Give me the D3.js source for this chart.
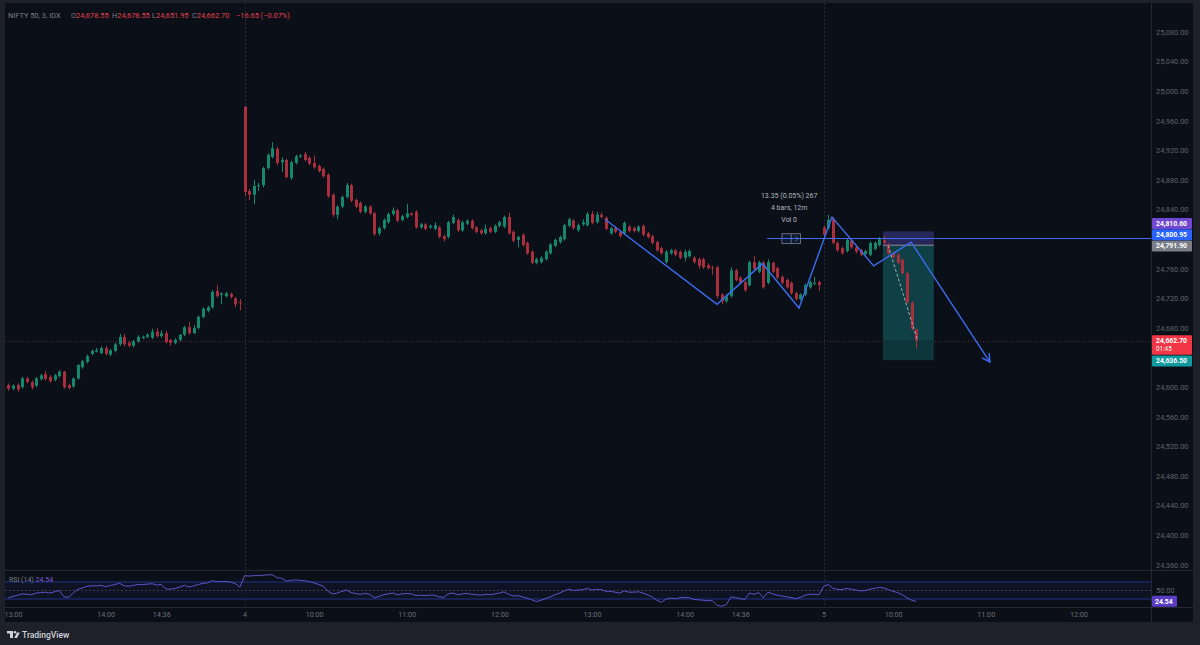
<!DOCTYPE html>
<html><head><meta charset="utf-8">
<script src="https://cdn.jsdelivr.net/npm/d3@7"></script>
<style>
html,body{margin:0;padding:0;background:#1e2129;overflow:hidden;}
svg{display:block;}
text{font-family:Roboto,"Open Sans",sans-serif;}
</style></head><body>
<svg id="c" width="1200" height="645"></svg>
<script>
// ---------------- DATA ----------------
const opens = [
24603,24598,24603,24600,24612,24607,24602,24611,24618,24614,
24610,24615,24621,24603,24601,24612,24627,24634,24645,24648,
24646,24653,24644,24649,24658,24668,24660,24656,24662,24666,
24668,24667,24675,24669,24673,24664,24660,24664,24671,24681,
24673,24680,24695,24703,24708,24730,24725,24723,24726,24720,
24715,
24979,24865,24860,24872,24873,24896,24911,24922,24904,24907,
24883,24903,24912,24915,24910,24903,24899,24895,24887,24860,
24833,24844,24857,24873,24853,24849,24837,24844,24835,24808,
24815,24823,24834,24839,24826,24830,24835,24837,24816,24820,
24816,24814,24816,24804,24803,24822,24826,24812,24821,24825,
24816,24812,24808,24815,24810,24818,24817,24830,24810,24799,
24806,24795,24783,24768,24769,24773,24781,24791,24796,24800,
24818,24825,24812,24820,24819,24834,24823,24833,24829,24808,
24815,24810,24808,24817,24815,24811,24818,24808,24804,24796,
24788,24769,24781,24785,24783,24775,24777,24775,24773,24773,
24765,24762,24762,24725,24716,24723,24758,24748,24742,24738,
24769,24756,24768,24741,24768,24761,24749,24745,24741,24727,
24719,24725,24735,24740,24742,
24816,24815,24827,24795,24788,24784,24798,24789,24785,24780,
24779,24787,24792,24799,24793,24781,24779,24772,24754,24714,24678.55];
const highs = [
24605,24604,24605,24614,24614,24609,24614,24618,24622,24616,
24618,24623,24622,24605,24613,24631,24637,24644,24651,24653,
24655,24656,24652,24660,24672,24672,24662,24664,24670,24670,
24673,24679,24680,24677,24676,24665,24666,24672,24683,24688,
24684,24697,24708,24710,24731,24738,24728,24729,24728,24722,
24719,
24980,24868,24880,24876,24898,24916,24931,24925,24911,24909,
24906,24914,24915,24918,24912,24913,24901,24897,24889,24862,
24846,24859,24876,24875,24855,24851,24846,24846,24837,24817,
24828,24836,24843,24841,24833,24848,24836,24839,24822,24822,
24820,24823,24818,24806,24825,24833,24828,24825,24827,24827,
24818,24814,24820,24817,24820,24825,24832,24836,24812,24805,
24808,24797,24785,24775,24777,24785,24795,24801,24805,24821,
24829,24827,24821,24827,24837,24838,24837,24836,24831,24817,
24817,24812,24824,24819,24817,24819,24820,24810,24806,24798,
24790,24785,24787,24787,24785,24786,24786,24777,24775,24775,
24767,24764,24764,24727,24726,24762,24760,24750,24744,24771,
24777,24771,24771,24773,24770,24763,24751,24747,24743,24729,
24727,24740,24744,24749,24744,
24818,24833,24830,24797,24790,24801,24800,24791,24787,24786,
24797,24797,24803,24804,24795,24783,24781,24774,24756,24716,24678.55];
const lows = [
24595,24596,24594,24598,24605,24597,24600,24609,24609,24606,
24608,24613,24598,24597,24599,24610,24625,24632,24643,24647,
24645,24643,24642,24647,24656,24655,24654,24654,24660,24665,
24666,24665,24667,24667,24659,24656,24658,24662,24669,24671,
24672,24678,24693,24701,24706,24721,24712,24721,24720,24708,
24704,
24858,24853,24847,24865,24870,24894,24909,24900,24891,24882,
24880,24901,24910,24905,24900,24895,24890,24883,24856,24830,
24827,24842,24855,24850,24842,24835,24835,24833,24804,24805,
24813,24821,24832,24823,24824,24828,24831,24814,24814,24812,
24814,24812,24801,24797,24801,24820,24810,24810,24819,24813,
24808,24806,24806,24808,24808,24816,24815,24806,24796,24789,
24790,24779,24766,24766,24767,24771,24779,24789,24794,24798,
24816,24813,24810,24818,24817,24820,24821,24828,24812,24806,
24808,24802,24806,24809,24809,24809,24804,24801,24793,24783,
24779,24767,24779,24777,24773,24770,24775,24767,24760,24760,
24759,24752,24720,24712,24714,24721,24743,24739,24729,24736,
24758,24754,24733,24739,24754,24746,24739,24733,24725,24717,
24717,24723,24733,24738,24730,
24804,24813,24793,24783,24779,24782,24787,24781,24777,24778,
24777,24785,24790,24793,24779,24774,24766,24752,24713,24677,24651.95];
const closes = [
24598,24602,24597,24612,24607,24600,24612,24616,24611,24608,
24616,24621,24600,24599,24612,24630,24635,24642,24649,24650,
24653,24645,24650,24658,24668,24658,24656,24662,24668,24668,
24671,24675,24669,24673,24661,24660,24664,24671,24681,24673,
24680,24695,24706,24708,24729,24723,24727,24727,24722,24712,
24714,
24864,24860,24872,24873,24896,24914,24923,24903,24907,24884,
24904,24912,24913,24907,24902,24897,24892,24885,24858,24833,
24844,24857,24873,24852,24844,24837,24844,24835,24807,24815,
24826,24834,24839,24825,24831,24835,24833,24816,24820,24814,
24818,24819,24803,24800,24823,24830,24812,24823,24825,24815,
24810,24808,24814,24810,24818,24823,24830,24808,24798,24803,
24792,24781,24768,24773,24775,24783,24793,24799,24803,24819,
24827,24815,24819,24823,24834,24822,24833,24830,24814,24815,
24810,24804,24822,24811,24811,24817,24806,24803,24795,24785,
24781,24783,24785,24779,24775,24783,24784,24769,24764,24762,
24761,24761,24723,24716,24723,24758,24745,24741,24731,24769,
24760,24769,24735,24769,24756,24748,24741,24735,24727,24719,
24725,24738,24742,24741,24738,
24806,24826,24795,24785,24781,24799,24789,24783,24779,24784,
24795,24795,24800,24795,24781,24776,24768,24754,24715,24679,24662.70];
const rsiValues = [
33,36,39,42,41,40,44,45,46,44,
47,50,35,34,44,53,56,60,61,61,
62,59,62,64,67,61,60,62,64,64,
65,66,63,64,54,53,55,58,62,58,
61,64,67,68,73,71,71,71,70,66,
58,
85,84,85,85,86,87,87,80,79,72,
74,75,74,73,71,68,64,60,48,42,
44,48,51,45,43,41,43,41,33,36,
40,42,44,40,42,43,42,38,39,38,
39,39,35,34,42,44,40,42,43,41,
40,39,41,40,42,44,47,41,37,38,
35,32,28,24,27,31,35,40,44,49,
53,50,51,52,55,51,53,52,48,48,
46,44,49,46,46,47,44,40,35,27,
22,30,32,31,33,34,33,29,28,27,
26,26,15,13,17,35,33,31,29,44,
41,45,33,46,42,39,37,35,33,31,
34,39,41,41,40,
60,64,55,53,52,55,53,51,49,50,
53,55,57,56,52,48,45,40,33,27,24.54];

// visible price ticks (24,800 and 24,640 are hidden behind the price labels)
const priceTicks = [24360,24400,24440,24480,24520,24560,24600,24680,24720,24760,24840,24880,24920,24960,25000,25040,25080];
const timeTickIdx = [1,21,33,51,66,86,106,126,146,158,176,191,211,231];
const timeTickLabels = ["13:00","14:00","14:36","4","10:00","11:00","12:00","13:00","14:00","14:36","5","10:00","11:00","12:00"];
const sessionStarts = [51,176];

// header values
const symbolTitle = "NIFTY 50, 3, IDX";
const ohlcKeys = ["O","H","L","C"];
const changeValue = -16.65, changePct = -0.07;

// drawings
const zigIdx   = [128.8, 153, 162.8, 170.7, 177.8, 186.8, 194.9, 211.9];
const zigPrice = [24827, 24712, 24767, 24707, 24830, 24764, 24796, 24634];
const hLinePrice = 24800.95, hLineStart = 163.8;
const posStart = 188.8, posEnd = 199.8, posStop = 24810.60, posEntry = 24791.90, posTarget = 24636.50;
const measStart = 167, measEnd = 171, measLo = 24794, measHi = 24807.35;
const measLines = ["13.35 (0.05%) 267","4 bars, 12m","Vol 0"];
const lastPrice = 24662.70, lastCountdown = "01:45";
const rsiLast = 24.54;

// ---------------- LAYOUT ----------------
const UP="#14876d", DN="#a92f3e";
const paneL=5, paneR=1151, paneT=3, paneB=570, rsiB=607, axisB=622, axisR=1193;
const svg = d3.select("#c");
const x = d3.scaleLinear().domain([0,231]).range([8.37, 8.37+231*4.632]);
const y = d3.scaleLinear().domain([24680,25080]).range([328,32]);
const yr = d3.scaleLinear().domain([30,70]).range([599,582]);

svg.append("rect").attr("width",1200).attr("height",645).attr("fill","#1e2129");
svg.append("rect").attr("x",paneL).attr("y",paneT).attr("width",axisR-paneL).attr("height",axisB-paneT).attr("fill","#0b1018");

const defs = svg.append("defs");
defs.append("clipPath").attr("id","main").append("rect").attr("x",paneL).attr("y",paneT).attr("width",paneR-paneL).attr("height",paneB-paneT);
defs.append("clipPath").attr("id","rsi").append("rect").attr("x",paneL).attr("y",paneB).attr("width",paneR-paneL).attr("height",rsiB-paneB);
defs.append("clipPath").attr("id","taxis").append("rect").attr("x",paneL).attr("y",rsiB).attr("width",paneR-paneL).attr("height",axisB-rsiB);

// separators
const sep = svg.append("g").attr("stroke","#242833").attr("stroke-width",1);
sep.append("line").attr("x1",paneR+0.5).attr("x2",paneR+0.5).attr("y1",paneT).attr("y2",axisB);
sep.append("line").attr("x1",paneL).attr("x2",axisR).attr("y1",paneB+0.5).attr("y2",paneB+0.5);
sep.append("line").attr("x1",paneL).attr("x2",axisR).attr("y1",rsiB+0.5).attr("y2",rsiB+0.5);

// session separators
svg.append("g").selectAll("line").data(sessionStarts).join("line")
  .attr("x1",d=>Math.round(x(d))+0.5).attr("x2",d=>Math.round(x(d))+0.5)
  .attr("y1",paneT).attr("y2",rsiB)
  .attr("stroke","#262a35").attr("stroke-dasharray","2,2");

const main = svg.append("g").attr("clip-path","url(#main)");

// last price dotted line
main.append("line").attr("x1",paneL).attr("x2",paneR).attr("y1",Math.round(y(lastPrice))+0.5).attr("y2",Math.round(y(lastPrice))+0.5)
  .attr("stroke","#5e2a35").attr("stroke-dasharray","1,2");

// position tool (short)
const px0=x(posStart), px1=x(posEnd);
main.append("rect").attr("x",px0).attr("width",px1-px0).attr("y",y(posStop)).attr("height",y(posEntry)-y(posStop)).attr("fill","#272759");
main.append("rect").attr("x",px0).attr("width",px1-px0).attr("y",y(posEntry)).attr("height",y(lastPrice)-y(posEntry)).attr("fill","#0f4045");
main.append("rect").attr("x",px0).attr("width",px1-px0).attr("y",y(lastPrice)).attr("height",y(posTarget)-y(lastPrice)).attr("fill","#0d363b");
main.append("line").attr("x1",px0).attr("x2",px1).attr("y1",y(posEntry)).attr("y2",y(posEntry)).attr("stroke","#8e919a").attr("stroke-width",1);

// candles
const idx = d3.range(closes.length);
const col = i => closes[i]>=opens[i]?UP:DN;
main.append("g").selectAll("line").data(idx).join("line")
  .attr("x1",i=>Math.round(x(i))+0.5).attr("x2",i=>Math.round(x(i))+0.5)
  .attr("y1",i=>y(highs[i])).attr("y2",i=>y(lows[i])).attr("stroke",col);
main.append("g").selectAll("rect").data(idx).join("rect")
  .attr("x",i=>Math.round(x(i))-1).attr("width",3)
  .attr("y",i=>y(Math.max(opens[i],closes[i])))
  .attr("height",i=>Math.max(1,Math.abs(y(opens[i])-y(closes[i]))))
  .attr("fill",col);

// dashed trade path
main.append("line").attr("x1",x(posStart+1.1)).attr("y1",y(posEntry)).attr("x2",x(196.3)).attr("y2",y(lastPrice))
  .attr("stroke","#a9acb5").attr("stroke-dasharray","3,2").attr("stroke-width",1);

// horizontal line
main.append("line").attr("x1",x(hLineStart)).attr("x2",paneR).attr("y1",y(hLinePrice)).attr("y2",y(hLinePrice))
  .attr("stroke","#3b6cf0").attr("stroke-width",1.2);

// measure box
const mx0=x(measStart), mx1=x(measEnd), my0=y(measHi), my1=y(measLo);
const mg = main.append("g");
mg.append("rect").attr("x",mx0).attr("y",my0).attr("width",mx1-mx0).attr("height",my1-my0)
  .attr("fill","rgba(41,98,255,0.12)").attr("stroke","#7d808a").attr("stroke-width",0.8);
mg.append("line").attr("x1",(mx0+mx1)/2).attr("x2",(mx0+mx1)/2).attr("y1",my0).attr("y2",my1).attr("stroke","#7d808a").attr("stroke-width",0.8);
mg.append("path").attr("d",`M${mx1-5},${(my0+my1)/2-2.5} L${mx1-2.5},${(my0+my1)/2} L${mx1-5},${(my0+my1)/2+2.5}`)
  .attr("fill","none").attr("stroke","#7d808a").attr("stroke-width",0.8);
mg.selectAll("text").data(measLines).join("text")
  .attr("x",(mx0+mx1)/2-2).attr("y",(d,i)=>my0-36+i*12).attr("text-anchor","middle")
  .attr("font-size",7).attr("fill","#b2b5be").text(d=>d);

// zigzag
const zig = zigIdx.map((d,i)=>[x(d),y(zigPrice[i])]);
main.append("path").attr("d",d3.line()(zig)).attr("fill","none").attr("stroke","#3b6cf0").attr("stroke-width",1.4).attr("stroke-linejoin","miter");
{
  const [a,b] = zig.slice(-2);
  const ang = Math.atan2(b[1]-a[1], b[0]-a[0]);
  const L=9;
  const p1=[b[0]-L*Math.cos(ang-0.5), b[1]-L*Math.sin(ang-0.5)];
  const p2=[b[0]-L*Math.cos(ang+0.5), b[1]-L*Math.sin(ang+0.5)];
  main.append("path").attr("d",`M${p1}L${b}L${p2}`).attr("fill","none").attr("stroke","#3b6cf0").attr("stroke-width",1.4);
}

// ---------------- RSI pane ----------------
const rg = svg.append("g").attr("clip-path","url(#rsi)");
rg.append("rect").attr("x",paneL).attr("width",paneR-paneL).attr("y",yr(70)).attr("height",yr(30)-yr(70)).attr("fill","#0e1323");
rg.append("line").attr("x1",paneL).attr("x2",paneR).attr("y1",yr(70)).attr("y2",yr(70)).attr("stroke","#24338a");
rg.append("line").attr("x1",paneL).attr("x2",paneR).attr("y1",yr(30)).attr("y2",yr(30)).attr("stroke","#24338a");
rg.append("line").attr("x1",paneL).attr("x2",paneR).attr("y1",yr(50)).attr("y2",yr(50)).attr("stroke","#3a3e4c").attr("stroke-dasharray","2,2");
rg.append("path").attr("d",d3.line().x((d,i)=>x(i)).y(d=>yr(d))(rsiValues)).attr("fill","none").attr("stroke","#5b54c8").attr("stroke-width",1);
svg.append("text").attr("x",9).attr("y",582).attr("font-size",7).attr("fill","#787b86")
  .call(t=>{t.append("tspan").text("RSI (14) ");t.append("tspan").attr("fill","#7e5fd0").text(d3.format(".2f")(rsiLast));});

// ---------------- axes ----------------
const pAxis = d3.axisRight(y).tickValues(priceTicks).tickFormat(d3.format(",.2f")).tickSize(0).tickPadding(5);
const pa = svg.append("g").attr("transform",`translate(${paneR},0)`).call(pAxis);
pa.select(".domain").remove();
pa.selectAll("text").attr("font-size",7.4).attr("fill","#5f626c").attr("font-family","Roboto,sans-serif");
pa.selectAll(".tick").filter(d=>y(d)>paneB-4||y(d)<paneT+4).remove();

const rAxis = d3.axisRight(yr).tickValues([50]).tickFormat(d3.format(".2f")).tickSize(0).tickPadding(5);
const ra = svg.append("g").attr("transform",`translate(${paneR},0)`).call(rAxis);
ra.select(".domain").remove();
ra.selectAll("text").attr("font-size",7.4).attr("fill","#5f626c").attr("font-family","Roboto,sans-serif");

const tAxis = d3.axisBottom(x).tickValues(timeTickIdx).tickFormat((d,i)=>timeTickLabels[i]).tickSize(0).tickPadding(4);
const ta = svg.append("g").attr("clip-path","url(#taxis)").append("g").attr("transform",`translate(0,${rsiB+1})`).call(tAxis);
ta.select(".domain").remove();
ta.selectAll("text").attr("font-size",7.2).attr("fill","#6a6d78").attr("font-family","Roboto,sans-serif");

// price labels on axis
function axisLabel(cy, txt, bg, h, txt2){
  const g = svg.append("g");
  g.append("rect").attr("x",paneR+1).attr("y",cy-5.5).attr("width",40).attr("height",h||11).attr("fill",bg).attr("rx",1);
  g.append("text").attr("x",paneR+5).attr("y",cy+2.4).attr("font-size",6.8).attr("font-weight","bold").attr("fill","#ffffff").text(txt);
  if(txt2) g.append("text").attr("x",paneR+5).attr("y",cy+10.2).attr("font-size",6.3).attr("fill","#ffffff").text(txt2);
  return g;
}
const fmt = d3.format(",.2f");
// stacked labels near entry
const yEntry = y(posEntry);
axisLabel(yEntry+0.8, fmt(posEntry), "#7b7e88");
axisLabel(yEntry-10.4, fmt(hLinePrice), "#2962ff");
axisLabel(yEntry-21.6, fmt(posStop), "#7048d0");
// last price + target
axisLabel(y(lastPrice), fmt(lastPrice), "#f23645", 19.5, lastCountdown);
axisLabel(y(posTarget)+0.8, fmt(posTarget), "#0f9ba0");
// RSI label
{
  const cy = yr(rsiLast);
  svg.append("rect").attr("x",paneR+1).attr("y",cy-5.5).attr("width",25).attr("height",11).attr("fill","#5b3cc4").attr("rx",1);
  svg.append("text").attr("x",paneR+4).attr("y",cy+2.5).attr("font-size",6.8).attr("font-weight","bold").attr("fill","#fff").text(fmt(rsiLast));
}

// ---------------- header ----------------
const hg = svg.append("g").attr("font-size",7.4).attr("fill","#7b7e88");
const lastI = closes.length-1;
const ohlcVals = [opens[lastI], highs[lastI], lows[lastI], closes[lastI]];
hg.append("text").attr("x",8).attr("y",18).text(symbolTitle);
const hdrX = [71, 112, 152, 192];
ohlcKeys.forEach((k,i)=>{
  const t = hg.append("text").attr("x",hdrX[i]).attr("y",18);
  t.append("tspan").attr("fill","#7b7e88").text(k);
  t.append("tspan").attr("fill","#e5404f").text(fmt(ohlcVals[i]));
});
hg.append("text").attr("x",236).attr("y",18).attr("fill","#e5404f")
  .text(d3.format(".2f")(changeValue).replace("-","−")+" ("+d3.format(".2f")(changePct).replace("-","−")+"%)");

// ---------------- logo ----------------
const lg = svg.append("g").attr("fill","#d1d4dc");
lg.append("path").attr("d","M7,631 h6 v7 h-3 v-4.5 h-3 z");
lg.append("circle").attr("cx",15).attr("cy",632.3).attr("r",1.3);
lg.append("path").attr("d","M14.2,638 l2.8,-5.5 h2.8 l-2.8,5.5 z");
svg.append("text").attr("x",22).attr("y",637.5).attr("font-size",8.5).attr("font-weight",500).attr("fill","#d1d4dc").text("TradingView");
</script>
</body></html>
